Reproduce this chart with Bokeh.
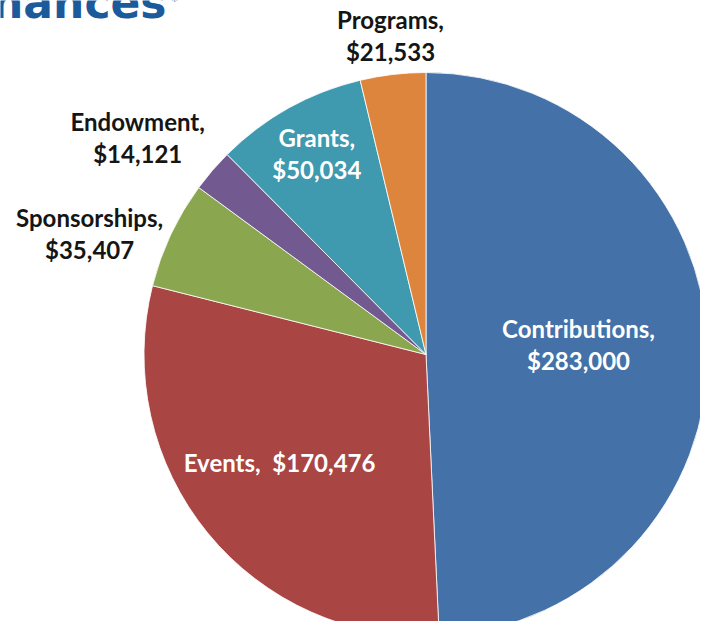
import math
from bokeh.plotting import figure
from bokeh.models import Range1d, ColumnDataSource
from bokeh.core.properties import value
from bokeh.embed import file_html
from bokeh.resources import INLINE

# ---- data ----
categories = ["Contributions", "Events", "Sponsorships", "Endowment", "Grants", "Programs"]
amounts = [283000, 170476, 35407, 14121, 50034, 21533]
label_texts = ["Contributions,\n$283,000", "Events,\u00a0 $170,476", "Sponsorships,\n$35,407",
               "Endowment,\n$14,121", "Grants,\n$50,034", "Programs,\n$21,533"]
colors = ["#4472A8", "#A94543", "#8AA64E", "#72598F", "#3F99AF", "#DD853C"]
label_colors = ["white", "white", "#151515", "#151515", "white", "#151515"]
# label placement: radial factor and angle tweak (deg)
label_rf = [0.542, 0.645, 1.268, 1.279, 0.81, 1.138]
label_dtheta = [-2.4, 2.9, -5.4, -3.8, 0.6, 0.4]

W, H = 700, 621
# coordinates in picture pixels (y flipped)
def Y(sy):
    return H - sy

cx, cy, r = 425.5, Y(354), 282

total = float(sum(amounts))
starts, ends, lx, ly = [], [], [], []
cum = 0.0
for i, a in enumerate(amounts):
    f0 = cum / total
    cum += a
    f1 = cum / total
    starts.append(math.pi / 2 - 2 * math.pi * f0)
    ends.append(math.pi / 2 - 2 * math.pi * f1)
    mid = (f0 + f1) / 2 * 360 + label_dtheta[i]
    th = math.radians(mid)
    lx.append(cx + label_rf[i] * r * math.sin(th))
    ly.append(cy + label_rf[i] * r * math.cos(th))

src = ColumnDataSource(dict(cat=categories, amt=amounts, start=starts, end=ends,
                            color=colors, lx=lx, ly=ly, txt=label_texts, tc=label_colors))

p = figure(width=W, height=H, output_backend="svg", toolbar_location=None,
           x_range=Range1d(0, W), y_range=Range1d(0, H), min_border=0)
p.axis.visible = False
p.grid.visible = False
p.outline_line_color = None
p.background_fill_color = "white"

p.wedge(x=cx, y=cy, radius=r, start_angle="start", end_angle="end", direction="clock",
        fill_color="color", line_color="white", line_width=0.8, source=src)

p.text(x="lx", y="ly", text="txt", text_color="tc", source=src,
       text_font=value("Lato"), text_font_style="bold", text_font_size="24px",
       text_align="center", text_baseline="middle", text_line_height=1.1)

# cut-off page title
p.text(x=[166], y=[Y(2)], text=["Finances"], text_color="#1B5A9B",
       text_font=value("DejaVu Sans"), text_font_style="bold", text_font_size="44px",
       text_align="right", text_baseline="alphabetic")
p.text(x=[171], y=[Y(0)], text=["*"], text_color="#1B5A9B",
       text_font=value("DejaVu Sans"), text_font_style="bold", text_font_size="12px",
       text_align="left", text_baseline="alphabetic")

open("out.html", "w").write(file_html(p, INLINE))
